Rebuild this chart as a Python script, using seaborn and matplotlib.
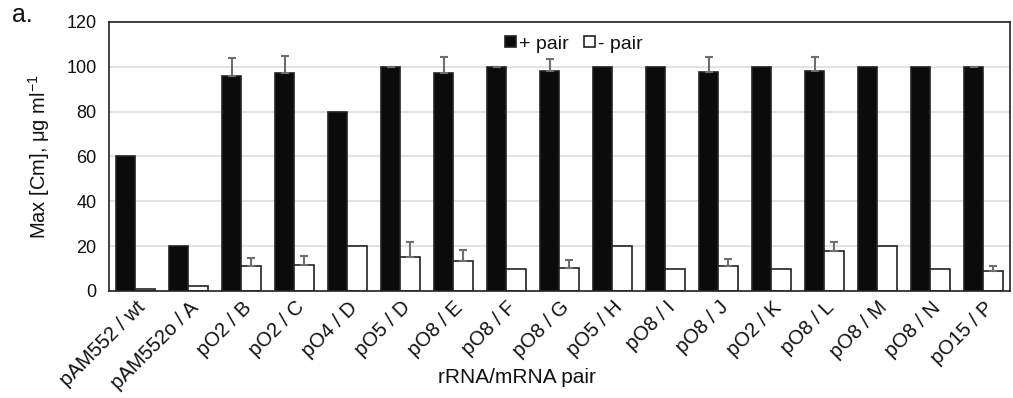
import numpy as np
import pandas as pd
import seaborn as sns
import matplotlib.pyplot as plt

# -------------------------------------------------
# Data
# -------------------------------------------------
pairs = ['pAM552 / wt', 'pAM552o / A', 'pO2 / B', 'pO2 / C', 'pO4 / D',
         'pO5 / D', 'pO8 / E', 'pO8 / F', 'pO8 / G', 'pO5 / H', 'pO8 / I',
         'pO8 / J', 'pO2 / K', 'pO8 / L', 'pO8 / M', 'pO8 / N', 'pO15 / P']
plus_vals = [60, 20, 95.7, 97, 80, 100, 97, 100, 98.3, 100, 100, 97.8, 100,
             98.3, 100, 100, 99.7]
plus_err = [np.nan, np.nan, 8.4, 8, np.nan, 0, 7.3, 0, 5.3, np.nan, np.nan,
            6.5, np.nan, 6, np.nan, np.nan, 0.3]
minus_vals = [0.7, 2, 11, 11.5, 20, 15, 13.5, 10, 10.2, 20, 10, 10.9, 10,
              17.7, 20, 10, 8.7]
minus_err = [np.nan, np.nan, 3.5, 4.2, np.nan, 6.7, 4.8, np.nan, 3.5, np.nan,
             np.nan, 3.4, np.nan, 4, np.nan, np.nan, 2.3]
series = ['+ pair', '- pair']

sns.set_style('white')
plt.rcParams['font.family'] = ['Liberation Sans', 'DejaVu Sans']
plt.rcParams['mathtext.fontset'] = 'custom'
plt.rcParams['mathtext.rm'] = 'Liberation Sans'
plt.rcParams['mathtext.it'] = 'Liberation Sans:italic'
plt.rcParams['text.color'] = '#111111'
plt.rcParams['axes.labelcolor'] = '#111111'
plt.rcParams['xtick.color'] = '#111111'
plt.rcParams['ytick.color'] = '#111111'

df = pd.DataFrame({
    'pair': pairs * 2,
    'value': plus_vals + minus_vals,
    'series': [series[0]] * len(pairs) + [series[1]] * len(pairs),
})

fig = plt.figure(figsize=(10.13, 3.98), dpi=100)
ax = fig.add_axes([0.1076, 0.269, 0.8894, 0.676])

sns.barplot(data=df, x='pair', y='value', hue='series', ax=ax,
            palette={'+ pair': '#0b0b0b', '- pair': 'white'},
            edgecolor='#222222', linewidth=1.2, width=0.72, errorbar=None,
            saturation=1)

# error bars (upward only), placed on the bars seaborn drew
n = len(pairs)
bars = ax.patches[:2 * n]
for k, errs in enumerate([plus_err, minus_err]):
    for i, e in enumerate(errs):
        if np.isnan(e):
            continue
        b = bars[k * n + i]
        xc = b.get_x() + b.get_width() / 2
        top = b.get_height()
        ax.errorbar(xc, top, yerr=[[0], [e]], fmt='none', ecolor='#6e6e6e',
                    elinewidth=1.5, capsize=3, capthick=1.5, zorder=3)

ax.set_xlim(-0.5, n - 0.5)
ax.set_ylim(0, 120)
ax.set_yticks(range(0, 121, 20))
ax.grid(axis='y', color='#dadada', linewidth=1.1)
ax.set_axisbelow(True)
for s in ax.spines.values():
    s.set_color('#222222')
    s.set_linewidth(1.2)

ax.tick_params(axis='y', labelsize=13, length=0, pad=9)
ax.tick_params(axis='x', labelsize=14.5, length=0, pad=5)
plt.setp(ax.get_xticklabels(), rotation=45, ha='right', rotation_mode='anchor')
ax.set_xlabel('rRNA/mRNA pair', fontsize=15)
ax.xaxis.set_label_coords(0.453, -0.285)
ax.set_ylabel('Max [Cm], μg ml$^{-1}$', fontsize=14.5, labelpad=10)

ax.legend(loc='upper center', bbox_to_anchor=(0.516, 1.0), ncol=2,
          frameon=False, fontsize=14, handlelength=0.55, handleheight=0.55,
          handletextpad=0.15, columnspacing=0.8, borderaxespad=0.3)

fig.text(12 / 1013, 1 - 22 / 398, 'a.', fontsize=18, va='baseline')

fig.savefig('out.png', dpi=100)
